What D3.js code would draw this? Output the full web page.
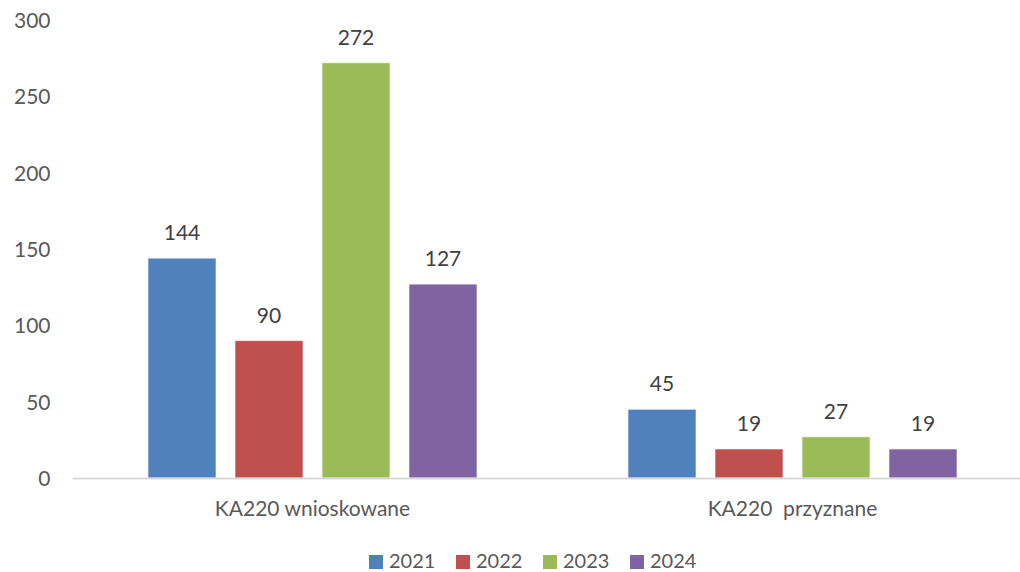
<!DOCTYPE html>
<html><head><meta charset="utf-8">
<script src="https://cdn.jsdelivr.net/npm/d3@7"></script>
<style>body{margin:0;background:#fff}svg{display:block}text{font-family:Lato,"Open Sans",sans-serif}</style>
</head><body><svg id="c" width="1020" height="572"></svg>
<script>
const categories = ["KA220 wnioskowane", "KA220\u00a0 przyznane"];
const seriesNames = ["2021", "2022", "2023", "2024"];
const v2021 = [144, 45];
const v2022 = [90, 19];
const v2023 = [272, 27];
const v2024 = [127, 19];
const yTicks = [0, 50, 100, 150, 200, 250, 300];
const colors = ["#4F81BD", "#C0504D", "#9BBB59", "#8064A2"];
const seriesValues = [v2021, v2022, v2023, v2024];

const svg = d3.select("#c");
const mLeft = 72.5, mRight = 1032.5, mTop = 20, mBottom = 478;
const x0 = d3.scaleBand().domain(categories).range([mLeft, mRight]).paddingInner(0).paddingOuter(0);
const x1 = d3.scaleBand().domain(seriesNames).range([75.5, 480 - 75.5]).paddingInner(19/87).paddingOuter(0);
const y = d3.scaleLinear().domain([0, 300]).range([mBottom, mTop]);

const yAxis = svg.append("g").attr("transform", `translate(${mLeft - 22},0)`)
  .call(d3.axisLeft(y).tickValues(yTicks).tickSize(0).tickPadding(0));
yAxis.select(".domain").remove();
yAxis.selectAll("text").attr("font-size", 21).attr("fill", "#595959").attr("font-family", "Lato").attr("dy", "0.35em");

const groups = svg.append("g").selectAll("g").data(categories).join("g")
  .attr("transform", d => `translate(${x0(d)},0)`);
groups.each(function(cat, ci) {
  const g = d3.select(this);
  seriesNames.forEach((s, si) => {
    const val = seriesValues[si][ci];
    g.append("rect").attr("x", x1(s)).attr("width", x1.bandwidth())
      .attr("y", y(val)).attr("height", y(0) - y(val))
      .attr("fill", colors[si]).attr("stroke", "#ffffff").attr("stroke-opacity", 0.6).attr("stroke-width", 1);
    g.append("text").attr("x", x1(s) + x1.bandwidth() / 2).attr("y", y(val) - 18)
      .attr("text-anchor", "middle").attr("font-size", 21).attr("fill", "#404040").text(val);
  });
});

svg.append("line").attr("x1", mLeft).attr("x2", mRight).attr("y1", mBottom + 0.5).attr("y2", mBottom + 0.5)
  .attr("stroke", "#d9d9d9").attr("stroke-width", 2);

svg.append("g").selectAll("text").data(categories).join("text")
  .attr("x", d => x0(d) + x0.bandwidth() / 2).attr("y", 516)
  .attr("text-anchor", "middle").attr("font-size", 21).attr("fill", "#595959")
  .attr("xml:space", "preserve").text(d => d);

const lg = svg.append("g").selectAll("g").data(seriesNames).join("g")
  .attr("transform", (d, i) => `translate(${369 + i * 87},0)`);
lg.append("rect").attr("x", 0).attr("y", 555).attr("width", 14).attr("height", 14).attr("fill", (d, i) => colors[i]);
lg.append("text").attr("x", 20).attr("y", 568).attr("font-size", 20).attr("fill", "#595959").text(d => d);
</script></body></html>
